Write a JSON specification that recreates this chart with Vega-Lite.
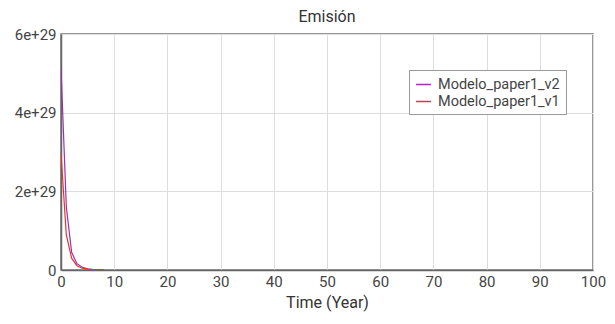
{
  "$schema": "https://vega.github.io/schema/vega-lite/v6.json",
  "width": 532,
  "height": 236,
  "autosize": {"type": "none"},
  "padding": {"left": 61, "top": 34, "right": 22, "bottom": 54},
  "background": "white",
  "config": {
    "font": "Roboto",
    "view": {"stroke": "#777777", "strokeWidth": 1.5}
  },
  "title": {"text": "Emisión", "fontSize": 16, "fontWeight": "normal", "color": "#333333", "offset": 2, "font": "Roboto"},
  "data": {
    "values": [
      {"t": 0, "v": 5.14e29, "s": "Modelo_paper1_v2"},
      {"t": 1, "v": 1.6e29, "s": "Modelo_paper1_v2"},
      {"t": 2, "v": 0.45e29, "s": "Modelo_paper1_v2"},
      {"t": 3, "v": 0.16e29, "s": "Modelo_paper1_v2"},
      {"t": 4, "v": 0.07e29, "s": "Modelo_paper1_v2"},
      {"t": 5, "v": 0.03e29, "s": "Modelo_paper1_v2"},
      {"t": 6, "v": 0.012e29, "s": "Modelo_paper1_v2"},
      {"t": 7, "v": 0.005e29, "s": "Modelo_paper1_v2"},
      {"t": 8, "v": 0.002e29, "s": "Modelo_paper1_v2"},
      {"t": 0, "v": 2.97e29, "s": "Modelo_paper1_v1"},
      {"t": 1, "v": 0.89e29, "s": "Modelo_paper1_v1"},
      {"t": 2, "v": 0.3e29, "s": "Modelo_paper1_v1"},
      {"t": 3, "v": 0.11e29, "s": "Modelo_paper1_v1"},
      {"t": 4, "v": 0.045e29, "s": "Modelo_paper1_v1"},
      {"t": 5, "v": 0.02e29, "s": "Modelo_paper1_v1"},
      {"t": 6, "v": 0.008e29, "s": "Modelo_paper1_v1"},
      {"t": 7, "v": 0.003e29, "s": "Modelo_paper1_v1"},
      {"t": 8, "v": 0.001e29, "s": "Modelo_paper1_v1"}
    ]
  },
  "mark": {"type": "line", "strokeWidth": 1.2, "clip": true},
  "encoding": {
    "x": {
      "field": "t", "type": "quantitative",
      "scale": {"domain": [0, 100], "nice": false, "zero": false},
      "axis": {
        "title": "Time (Year)", "titleFontSize": 16, "titleFontWeight": "normal", "titleColor": "#333333", "titlePadding": 5,
        "values": [0, 10, 20, 30, 40, 50, 60, 70, 80, 90, 100],
        "labelFontSize": 15, "labelColor": "#444444", "labelPadding": 4,
        "ticks": false, "domainColor": "#666666", "domainWidth": 1.5,
        "gridColor": "#dddddd", "gridWidth": 1, "labelFlush": false
      }
    },
    "y": {
      "field": "v", "type": "quantitative",
      "scale": {"domain": [0, 6e29], "nice": false},
      "axis": {
        "title": null,
        "values": [0, 2e29, 4e29, 6e29],
        "labelExpr": "datum.value == 0 ? '0' : format(datum.value / 1e29, 'd') + 'e+29'",
        "labelFontSize": 15, "labelColor": "#444444", "labelPadding": 5,
        "ticks": false, "domainColor": "#666666", "domainWidth": 1.5,
        "gridColor": "#dddddd", "gridWidth": 1
      }
    },
    "color": {
      "field": "s", "type": "nominal",
      "scale": {"domain": ["Modelo_paper1_v2", "Modelo_paper1_v1"], "range": ["#9933aa", "#e8332a"]},
      "legend": {
        "title": null, "orient": "none", "legendX": 348, "legendY": 36,
        "symbolType": "stroke", "symbolSize": 220, "symbolStrokeWidth": 1.5,
        "labelFontSize": 14.5, "labelColor": "#444444", "labelOffset": 6,
        "fillColor": "white", "strokeColor": "#999999", "padding": 6, "rowPadding": 2
      }
    }
  }
}
